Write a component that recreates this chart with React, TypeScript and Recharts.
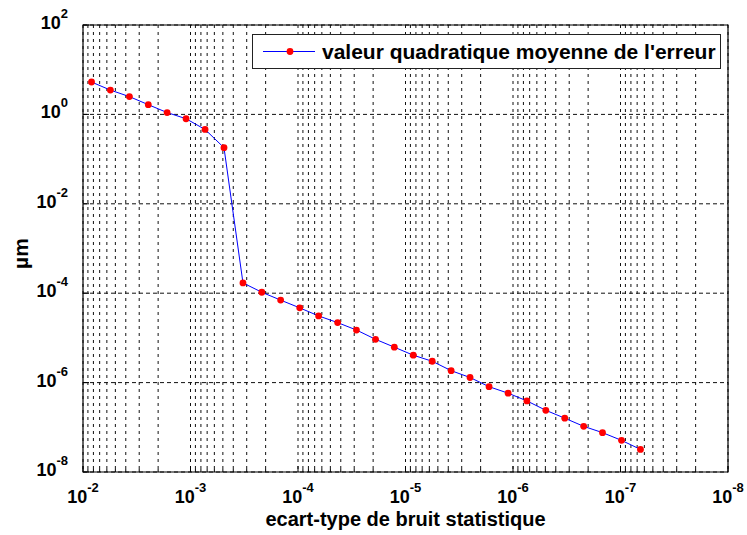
import { CartesianGrid, Legend, Line, LineChart, ReferenceArea, XAxis, YAxis } from 'recharts'

const FONT = "'Liberation Sans', Arial, Helvetica, sans-serif"

// ecart-type (x) and rms error in µm (y)
const sigma = [
  8.33e-3, 5.56e-3, 3.7e-3, 2.47e-3, 1.65e-3, 1.1e-3, 7.32e-4, 4.88e-4, 3.25e-4, 2.17e-4,
  1.45e-4, 9.64e-5, 6.43e-5, 4.28e-5, 2.86e-5, 1.9e-5, 1.27e-5, 8.46e-6, 5.64e-6, 3.76e-6,
  2.51e-6, 1.67e-6, 1.11e-6, 7.43e-7, 4.95e-7, 3.3e-7, 2.2e-7, 1.47e-7, 9.78e-8, 6.52e-8,
]
const rmsError = [
  5.3, 3.5, 2.5, 1.65, 1.1, 0.8, 0.46, 0.18, 1.7e-4, 1.05e-4,
  7.0e-5, 4.7e-5, 3.1e-5, 2.2e-5, 1.5e-5, 9.3e-6, 6.2e-6, 4.1e-6, 3.0e-6, 1.85e-6,
  1.3e-6, 8.1e-7, 5.8e-7, 3.9e-7, 2.4e-7, 1.6e-7, 1.05e-7, 7.6e-8, 5.1e-8, 3.2e-8,
]

const xDecades = [1e-2, 1e-3, 1e-4, 1e-5, 1e-6, 1e-7, 1e-8]
const minorSteps = [2, 3, 4, 5, 6, 7, 8, 9]
const yTicks = [1e-8, 1e-6, 1e-4, 1e-2, 1, 1e2]

const xTicks = [
  ...xDecades,
  ...xDecades.slice(1).flatMap((d) => minorSteps.map((m) => m * d)),
].sort((a, b) => a - b)

const data = sigma.map((s, i) => ({ sigma: s, err: rmsError[i] }))

const exponent = (v: number) => Math.round(Math.log10(v))
const isDecade = (v: number) => Math.abs(Math.log10(v) - exponent(v)) < 1e-6

function XTick({ x, y, payload }: any) {
  const v = payload.value
  const major = isDecade(v)
  return (
    <g>
      <line x1={x} x2={x} y1={y} y2={y - (major ? 6 : 3)} stroke="#000" />
      {major && (
        <text x={x} y={y + 31} textAnchor="middle" fontFamily={FONT} fontSize={18} fontWeight="bold" fill="#000">
          10
          <tspan dy={-11} fontSize={13}>{exponent(v)}</tspan>
        </text>
      )}
    </g>
  )
}

function YTick({ x, y, payload }: any) {
  return (
    <g>
      <line x1={x} x2={x + 6} y1={y} y2={y} stroke="#000" />
      <text x={x - 15} y={y + 4} textAnchor="end" fontFamily={FONT} fontSize={18} fontWeight="bold" fill="#000">
        10
        <tspan dy={-11} fontSize={13}>{exponent(payload.value)}</tspan>
      </text>
    </g>
  )
}

function LegendBox() {
  return (
    <div
      style={{
        boxSizing: 'border-box',
        width: 469,
        height: 35,
        border: '1px solid #222',
        background: '#fff',
        display: 'flex',
        alignItems: 'center',
        fontFamily: FONT,
        fontSize: 21,
        fontWeight: 'bold',
        color: '#000',
      }}
    >
      <svg width={66} height={33} style={{ flex: 'none' }}>
        <line x1={10} x2={62} y1={16.5} y2={16.5} stroke="#0000ff" strokeWidth={1} />
        <circle cx={37} cy={16.5} r={3.4} fill="#ff0000" />
      </svg>
      <span style={{ marginLeft: 3, whiteSpace: 'nowrap' }}>valeur quadratique moyenne de l'erreur</span>
    </div>
  )
}

export default function App() {
  return (
    <div style={{ position: 'absolute', left: 0, top: 0, width: 747, height: 535, background: '#fff' }}>
      <LineChart width={747} height={535} data={data} margin={{ top: 25, right: 19, left: 23, bottom: 33 }}>
        <CartesianGrid horizontal={false} stroke="#111" strokeDasharray="3 4" />
        <CartesianGrid vertical={false} stroke="#111" strokeDasharray="4 3" />
        <XAxis
          dataKey="sigma"
          type="number"
          scale="log"
          domain={[1e-8, 1e-2]}
          reversed
          allowDataOverflow
          ticks={xTicks}
          interval={0}
          tickSize={0}
          tickMargin={0}
          tick={<XTick />}
          axisLine={false}
          height={30}
          label={{
            content: ({ viewBox }: any) => (
              <text
                x={viewBox.x + viewBox.width / 2}
                y={viewBox.y + 54}
                textAnchor="middle"
                fontFamily={FONT}
                fontSize={20}
                fontWeight="bold"
                fill="#000"
              >
                ecart-type de bruit statistique
              </text>
            ),
          }}
        />
        <YAxis
          type="number"
          scale="log"
          domain={[1e-8, 1e2]}
          allowDataOverflow
          ticks={yTicks}
          interval={0}
          tickSize={0}
          tickMargin={0}
          tick={<YTick />}
          axisLine={false}
          width={60}
          label={{
            content: ({ viewBox }: any) => {
              const cy = viewBox.y + viewBox.height / 2 + 5
              return (
                <text
                  x={28}
                  y={cy}
                  transform={`rotate(-90 28 ${cy})`}
                  textAnchor="middle"
                  fontFamily={FONT}
                  fontSize={21}
                  fontWeight="bold"
                  fill="#000"
                >
                  µm
                </text>
              )
            },
          }}
        />
        <ReferenceArea x1={1e-2} x2={1e-8} y1={1e-8} y2={1e2} fill="none" stroke="#000" strokeWidth={1.2} />
        <Line
          dataKey="err"
          type="linear"
          stroke="#0000ff"
          strokeWidth={1}
          dot={{ r: 3.4, fill: '#ff0000', stroke: 'none' }}
          isAnimationActive={false}
        />
        <Legend
          layout="vertical"
          align="center"
          verticalAlign="middle"
          content={<LegendBox />}
          wrapperStyle={{ position: 'absolute', left: 252, top: 34, width: 469, height: 35 }}
        />
      </LineChart>
    </div>
  )
}
